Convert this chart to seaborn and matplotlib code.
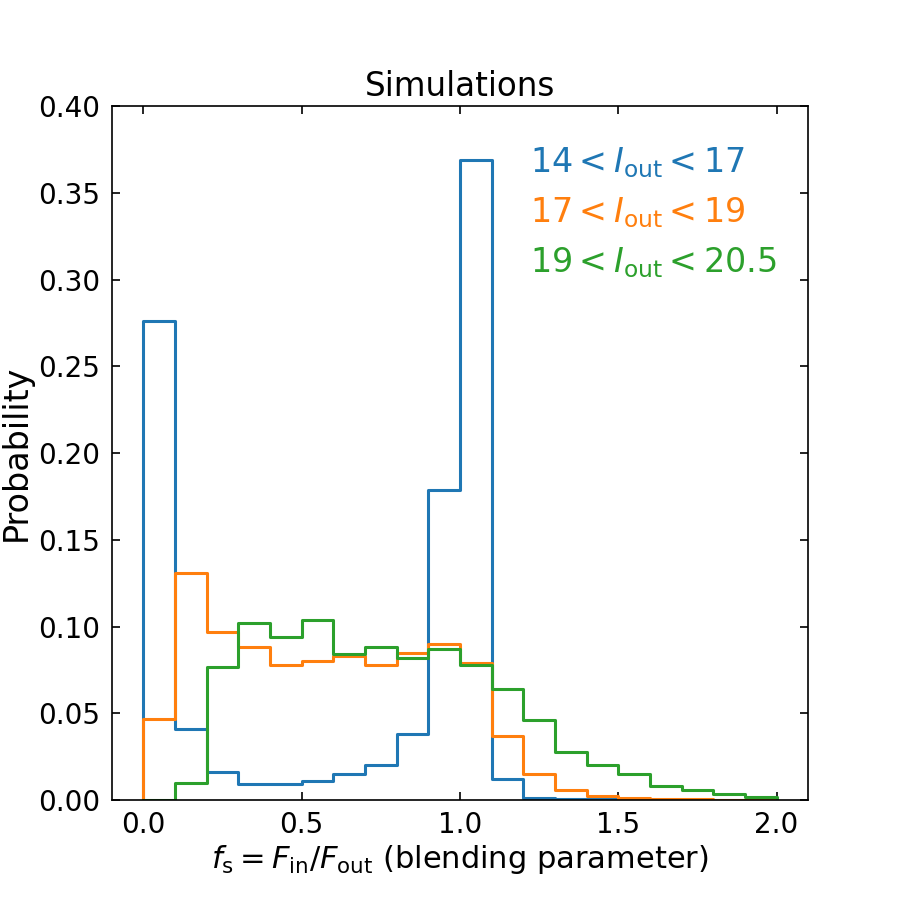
import numpy as np
import pandas as pd
import matplotlib
matplotlib.use("Agg")
import matplotlib.pyplot as plt
import seaborn as sns

# histogram bins of the blending parameter
bin_edges = np.round(np.arange(0, 2.01, 0.1), 2)
bin_centers = np.round(bin_edges[:-1] + 0.05, 3)

# probability per bin
prob_14_17 = [0.276, 0.041, 0.016, 0.009, 0.0095, 0.011, 0.015, 0.020, 0.038, 0.179,
              0.369, 0.012, 0.001, 0.0006, 0.0004, 0.0003, 0.0002, 0.0001, 0.0001, 0.0001]
prob_17_19 = [0.047, 0.131, 0.097, 0.088, 0.078, 0.080, 0.083, 0.078, 0.085, 0.090,
              0.079, 0.037, 0.015, 0.006, 0.0025, 0.0012, 0.0008, 0.0005, 0.0003, 0.0002]
prob_19_205 = [0.0, 0.010, 0.077, 0.102, 0.094, 0.104, 0.084, 0.088, 0.082, 0.087,
               0.078, 0.064, 0.046, 0.028, 0.020, 0.015, 0.008, 0.006, 0.0035, 0.0015]

labels = [r'$14 < I_{\rm out} < 17$', r'$17 < I_{\rm out} < 19$', r'$19 < I_{\rm out} < 20.5$']
colors = ['#1f77b4', '#ff7f0e', '#2ca02c']

df = pd.DataFrame({
    'fs': np.tile(bin_centers, 3),
    'prob': prob_14_17 + prob_17_19 + prob_19_205,
    'sample': np.repeat(labels, len(bin_centers)),
})

sns.set_style("ticks", {'text.color': 'black', 'axes.labelcolor': 'black',
                        'xtick.color': 'black', 'ytick.color': 'black',
                        'axes.edgecolor': 'black'})
plt.rcParams['font.family'] = ['DejaVu Sans']

fig = plt.figure(figsize=(9, 9), dpi=100)
ax = fig.add_axes([0.124, 0.111, 0.774, 0.771])

# tiny empty bins at both ends so each outline drops to zero like a step histogram
edges_closed = [-1e-9] + list(bin_edges) + [float(bin_edges[-1]) + 1e-9]
for lab, col in zip(labels, colors):
    sub = df[df['sample'] == lab]
    sns.histplot(data=sub, x='fs', weights='prob', bins=edges_closed, element='step',
                 fill=False, color=col, linewidth=2.2, ax=ax)

ax.set_xlim(-0.1, 2.1)
ax.set_ylim(0, 0.4)
ax.set_xticks([0.0, 0.5, 1.0, 1.5, 2.0])
ax.set_yticks(np.arange(0, 0.401, 0.05))
ax.tick_params(direction='in', top=True, right=True, length=6, width=1.2, labelsize=20, pad=8,
               colors='black')
for sp in ax.spines.values():
    sp.set_linewidth(1.2)
    sp.set_color('black')

ax.set_xlabel(r'$f_{\rm s} = F_{\rm in}/F_{\rm out}$ (blending parameter)', fontsize=22, labelpad=3)
ax.set_ylabel('Probability', fontsize=24, labelpad=4)
ax.set_title('Simulations', fontsize=23.5, pad=7)

for i, (lab, col) in enumerate(zip(labels, colors)):
    ax.text(0.60, 0.918 - i * 0.072, lab, color=col, fontsize=24,
            transform=ax.transAxes, va='center', ha='left')

fig.savefig("out.png", dpi=100)
